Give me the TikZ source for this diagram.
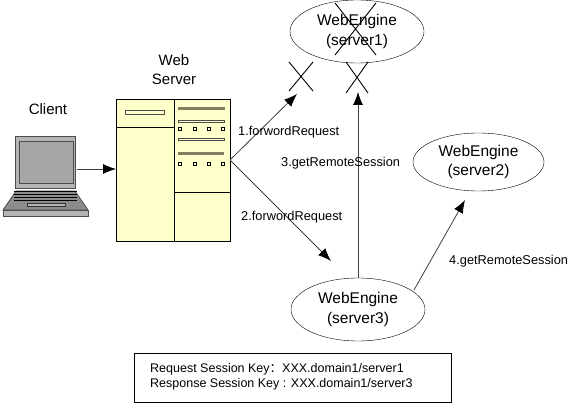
\documentclass[tikz,border=0pt]{standalone}
\usepackage{fontspec}
\setmainfont{Liberation Sans}
\newfontfamily\cjk{Noto Sans CJK SC}
\usetikzlibrary{shapes.geometric,arrows.meta}
\definecolor{srv}{HTML}{FFFFCC}
\definecolor{bar}{HTML}{808060}
\definecolor{lap}{HTML}{B4B4B4}
\tikzset{
  engine/.style={draw=black,fill=white,ellipse,minimum width=134pt,minimum height=63pt,inner sep=0pt,align=center,font=\fontsize{15.5}{19.5}\selectfont},
  lbl/.style={inner sep=0pt,font=\fontsize{12.8}{15}\selectfont},
  title/.style={inner sep=0pt,align=center,font=\fontsize{15}{19}\selectfont},
  conn/.style={draw=black!75,line width=0.8pt,-{Latex[length=13pt,width=10pt,black]}},
  cross/.style={draw=black,line width=0.9pt},
  srvline/.style={draw=black,line width=0.8pt},
  darkbar/.style={draw=bar,fill=bar,line width=0.6pt},
  hollowbar/.style={draw=black!70,fill=srv,line width=0.7pt},
  dot/.style={draw=black,fill=srv,line width=0.8pt},
  lapshape/.style={draw=black!70,fill=lap,line width=0.8pt}
}
\begin{document}
\begin{tikzpicture}[x=1pt,y=-1pt]
\useasboundingbox (0,0) rectangle (580,411);
\fill[white] (0,0) rectangle (580,411);
% server
\node[draw=black,fill=srv,line width=0.8pt,minimum width=114pt,minimum height=142pt,inner sep=0pt] (server) at (173,170) {};
\draw[srvline] (174,99) -- (174,241);
\draw[srvline] (116,127) -- (174,127);
\draw[srvline] (174,192) -- (230,192);
\draw[hollowbar] (125,110) rectangle (164,114);
\draw[darkbar] (178,107) rectangle (224,109);
\draw[hollowbar] (178,120) rectangle (224,122);
\draw[hollowbar] (178,138) rectangle (224,140);
\draw[darkbar] (178,152) rectangle (223,154);
\foreach \x in {178,193,207,221}{
  \draw[dot] (\x,127) rectangle ++(3.5,3.5);
  \draw[dot] (\x,162) rectangle ++(3.5,3.5);
}
% laptop
\draw[lapshape] (15,136) rectangle (75,188);
\draw[draw=black!70,fill=black!35,line width=0.8pt] (19,141) rectangle (73,183);
\draw[lapshape,fill=black!45] (16,191) -- (75,191) -- (88,210) -- (3,210) -- cycle;
\foreach \y in {191,194,197,200}{\draw[black,line width=0.5pt] (14,\y) -- (77,\y);}
\draw[lapshape,fill=lap] (3,210) -- (88,210) -- (88,216) -- (3,216) -- cycle;
\draw[draw=black!80,fill=lap,line width=0.6pt] (27,203) rectangle (65,206);
% texts
\node[title] at (48,109) {Client};
\node[title,text width=60pt] at (174,70) {Web\\Server};
% engines
\node[engine] (s1) at (357,31.5) {WebEngine\\(server1)};
\node[engine,minimum width=131pt,minimum height=58pt] (s2) at (478.5,162) {WebEngine\\(server2)};
\node[engine] (s3) at (358,309.5) {WebEngine\\(server3)};
% crosses
\draw[cross] (289,62) -- (313,91) (313,62) -- (289,91);
\draw[cross] (346,62) -- (368,93) (368,62) -- (346,93);
\draw[cross] (335,3) -- (376,55) (376,3) -- (335,55);
% connectors
\coordinate (cl) at (77,169);
\coordinate (srvin) at (116,169);
\coordinate (srvout) at (230,160);
\coordinate (a1) at (297,94);
\coordinate (a2) at (331,261);
\coordinate (a3) at (358,92);
\coordinate (a4) at (465,200);
\coordinate (s3r) at (414,290);
\draw[conn] (cl) -- (srvin);
\draw[conn] (srvout) -- (a1);
\draw[conn] (srvout) -- (a2);
\draw[conn] (s3.north) -- (a3);
\draw[conn] (s3r) -- (a4);
% labels
\node[lbl,anchor=west] at (238,132) {1.forwordRequest};
\node[lbl,anchor=west] at (241,217.5) {2.forwordRequest};
\node[lbl,anchor=west] at (281,163) {3.getRemoteSession};
\node[lbl,anchor=west] at (449,261) {4.getRemoteSession};
% key box
\node[draw=black,fill=white,line width=0.9pt,minimum width=317pt,minimum height=49pt,inner sep=0pt] (keys) at (292.5,377.5) {};
\node[inner sep=0pt,anchor=west,align=left,font=\fontsize{12.5}{15}\selectfont] at (150,377) {Request Session Key{\cjk ：}XXX.domain1/server1\\Response Session Key : XXX.domain1/server3};
\end{tikzpicture}
\end{document}
